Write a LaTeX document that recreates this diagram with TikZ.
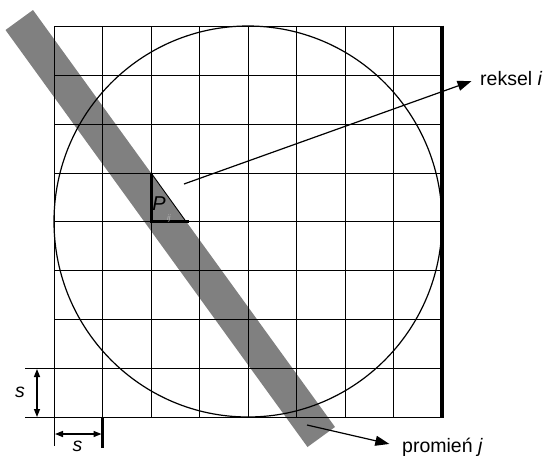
\documentclass[tikz,border=0pt]{standalone}
\usepackage{fontspec}
\setmainfont{Liberation Sans}
\usetikzlibrary{arrows.meta}
\definecolor{bandgray}{RGB}{128,128,128}
\begin{document}
\begin{tikzpicture}[x=1pt,y=-1pt,
  gridline/.style={line width=1.8pt},
  lbl/.style={font=\fontsize{19.5}{22}\selectfont, inner sep=0pt},
  ilbl/.style={font=\fontsize{19.5}{22}\selectfont\itshape, inner sep=0pt},
  ptr/.style={line width=1.2pt, -{Triangle[length=14pt,width=10pt]}},
  dimarrow/.style={line width=1.4pt, {Triangle[length=8pt,width=6pt]}-{Triangle[length=8pt,width=6pt]}}]
\useasboundingbox (0,0) rectangle (550,456);
% ray band
\fill[bandgray] (5.5,30) -- (33,10) -- (335,427) -- (307.5,447) -- cycle;
% grid
\foreach \c in {54.5,102.5,151.5,199.5,248.5,296.5,345.5,393.5}{
  \draw[gridline] (\c,26) -- (\c,417);
}
\foreach \r in {26.5,75.5,124.5,173.5,221.5,270.5,319.5,368.5,417.5}{
  \draw[gridline] (54,\r) -- (442,\r);
}
\draw[line width=3.2pt] (442,25.6) -- (442,418.4);
% circle
\draw[line width=1.2pt] (248,221.5) ellipse [x radius=194, y radius=195.5];
% pixel P_ij
\draw[line width=0.9pt] (151.5,173.5) -- (186,221.5);
\draw[line width=2.8pt] (151.5,172.5) -- (151.5,221.5) -- (189,221.5);
\node[ilbl, font=\fontsize{20}{21}\selectfont\itshape] (p) at (159,204) {P};
\node[inner sep=0pt, font=\fontsize{8}{9}\selectfont\itshape, text=gray!60] (pij) at (169,218) {ij};
% extension lines for s
\draw[gridline] (25,368.5) -- (54,368.5);
\draw[gridline] (25,417.5) -- (54,417.5);
\draw[gridline] (54.5,417) -- (54.5,446);
\draw[line width=2.8pt] (102.5,417) -- (102.5,448);
% dimension arrows
\coordinate (v1) at (37,369);
\coordinate (v2) at (37,417);
\coordinate (h1) at (55,434);
\coordinate (h2) at (101.5,434);
\draw[dimarrow] (v1) -- (v2);
\draw[dimarrow] (h1) -- (h2);
\node[ilbl] (sv) at (20,392) {s};
\node[ilbl] (sh) at (77.5,446) {s};
% labels and pointers
\node[lbl, anchor=base west] (rek) at (480,85) {reksel \textit{i}};
\node[lbl, anchor=base west] (prom) at (402,452) {promień \textit{j}};
\coordinate (rs) at (184,184);
\coordinate (ps) at (307,425);
\draw[ptr, shorten >=9pt] (rs) -- (rek.west);
\draw[ptr, shorten >=13pt] (ps) -- (prom.west);
\end{tikzpicture}
\end{document}
